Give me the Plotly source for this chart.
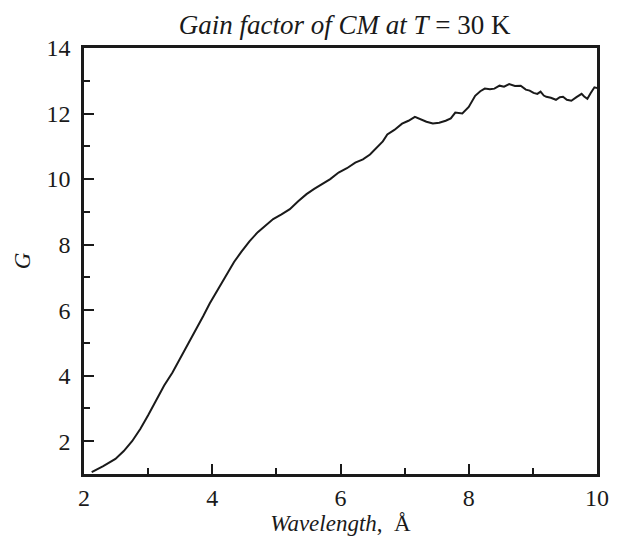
import plotly.graph_objects as go

wavelength = [2.12, 2.3, 2.49, 2.62, 2.75, 2.88, 3.0, 3.12, 3.25, 3.38, 3.5, 3.63, 3.76, 3.86, 3.96, 4.11,
              4.22, 4.34, 4.45, 4.58, 4.71, 4.83, 4.95, 5.08, 5.21, 5.34, 5.47, 5.59, 5.71, 5.84, 5.97,
              6.1, 6.23, 6.35, 6.46, 6.58, 6.66, 6.73, 6.84, 6.96, 7.06, 7.16, 7.25, 7.34, 7.44, 7.54,
              7.64, 7.72, 7.79, 7.9, 8.0, 8.1, 8.18, 8.25, 8.33, 8.4, 8.48, 8.55, 8.63, 8.72, 8.81,
              8.89, 8.95, 9.01, 9.07, 9.12, 9.17, 9.21, 9.28, 9.36, 9.42, 9.47, 9.53, 9.6, 9.68,
              9.76, 9.8, 9.85, 9.9, 9.96, 10.0]
gain = [1.06, 1.24, 1.46, 1.7, 2.0, 2.38, 2.79, 3.23, 3.7, 4.1, 4.52, 4.98, 5.44, 5.82, 6.2, 6.71,
        7.1, 7.47, 7.77, 8.1, 8.38, 8.58, 8.78, 8.92, 9.08, 9.32, 9.54, 9.7, 9.84, 10.0, 10.2,
        10.33, 10.5, 10.6, 10.75, 11.0, 11.15, 11.36, 11.5, 11.69, 11.78, 11.9, 11.82, 11.75, 11.7, 11.72,
        11.78, 11.85, 12.03, 12.0, 12.2, 12.54, 12.68, 12.76, 12.74, 12.76, 12.85, 12.82, 12.9, 12.84, 12.85,
        12.73, 12.7, 12.63, 12.6, 12.67, 12.55, 12.51, 12.48, 12.42, 12.5, 12.51, 12.42, 12.39, 12.5,
        12.6, 12.52, 12.45, 12.62, 12.8, 12.78]

font = "Liberation Serif, Times New Roman, serif"
ink = "#1a1a1a"

fig = go.Figure()
fig.add_trace(go.Scatter(x=wavelength, y=gain, mode="lines",
                         line=dict(color=ink, width=2), showlegend=False))

axis_common = dict(showline=True, linecolor=ink, linewidth=2.5, mirror=True,
                   ticks="inside", ticklen=10, tickwidth=1.5, tickcolor=ink,
                   showgrid=False, zeroline=False,
                   tickfont=dict(family=font, size=24, color=ink))

fig.update_layout(
    width=613, height=533,
    margin=dict(l=71, r=16, t=40, b=65),
    paper_bgcolor="white", plot_bgcolor="white",
    title=dict(text="<i>Gain factor of CM at T</i> = 30 K", xref="paper", x=0.508, xanchor="center",
               yref="container", y=1 - 17 / 533, yanchor="middle",
               font=dict(family=font, size=27, color=ink)),
    xaxis=dict(range=[2, 10], tick0=2, dtick=2, ticklabelstandoff=0,
               minor=dict(ticks="inside", ticklen=6, dtick=1, tickcolor=ink, tickwidth=1.5),
               title=dict(text="<i>Wavelength</i>,  Å", standoff=2,
                          font=dict(family=font, size=23, color=ink)),
               **axis_common),
    yaxis=dict(range=[1, 14], tick0=0, dtick=2, ticklabelstandoff=6,
               minor=dict(ticks="inside", ticklen=6, dtick=1, tick0=0, tickcolor=ink, tickwidth=1.5),
               title=dict(text="<i>G</i>", standoff=10,
                          font=dict(family=font, size=23, color=ink)),
               **axis_common),
)

fig.write_html("out.html")
